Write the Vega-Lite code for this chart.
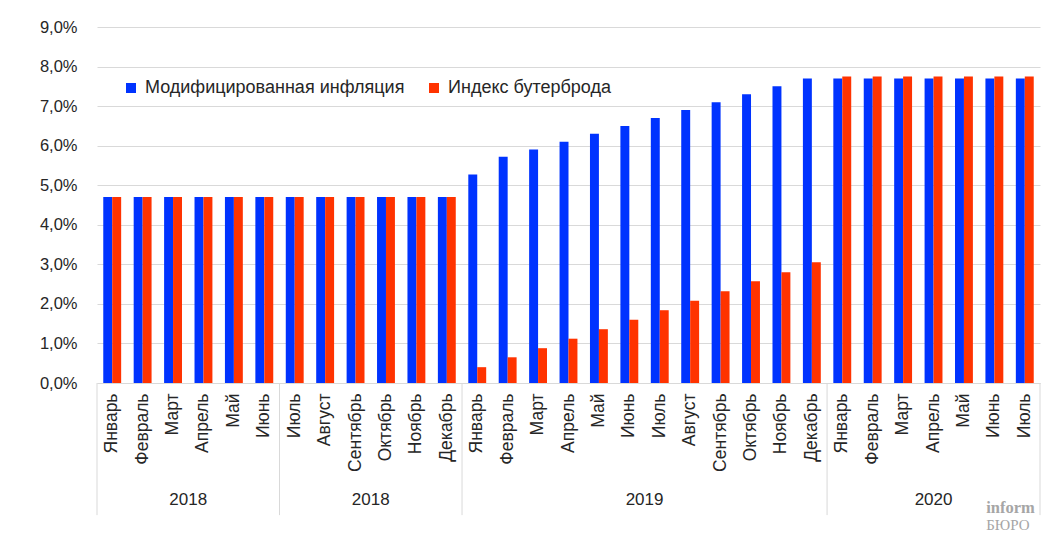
{
  "$schema": "https://vega.github.io/schema/vega-lite/v6.json",
  "width": 943,
  "height": 356,
  "autosize": {"type": "none"},
  "padding": {"left": 97, "top": 27, "right": 16, "bottom": 166},
  "background": "white",
  "config": {
    "view": {"stroke": null},
    "font": "Liberation Sans",
    "text": {"font": "Liberation Sans"}
  },
  "datasets": {
    "bars": [
      {"key": "2018-01|Январь", "series": "Модифицированная инфляция", "value": 4.7},
      {"key": "2018-01|Январь", "series": "Индекс бутерброда", "value": 4.7},
      {"key": "2018-02|Февраль", "series": "Модифицированная инфляция", "value": 4.7},
      {"key": "2018-02|Февраль", "series": "Индекс бутерброда", "value": 4.7},
      {"key": "2018-03|Март", "series": "Модифицированная инфляция", "value": 4.7},
      {"key": "2018-03|Март", "series": "Индекс бутерброда", "value": 4.7},
      {"key": "2018-04|Апрель", "series": "Модифицированная инфляция", "value": 4.7},
      {"key": "2018-04|Апрель", "series": "Индекс бутерброда", "value": 4.7},
      {"key": "2018-05|Май", "series": "Модифицированная инфляция", "value": 4.7},
      {"key": "2018-05|Май", "series": "Индекс бутерброда", "value": 4.7},
      {"key": "2018-06|Июнь", "series": "Модифицированная инфляция", "value": 4.7},
      {"key": "2018-06|Июнь", "series": "Индекс бутерброда", "value": 4.7},
      {"key": "2018-07|Июль", "series": "Модифицированная инфляция", "value": 4.7},
      {"key": "2018-07|Июль", "series": "Индекс бутерброда", "value": 4.7},
      {"key": "2018-08|Август", "series": "Модифицированная инфляция", "value": 4.7},
      {"key": "2018-08|Август", "series": "Индекс бутерброда", "value": 4.7},
      {"key": "2018-09|Сентябрь", "series": "Модифицированная инфляция", "value": 4.7},
      {"key": "2018-09|Сентябрь", "series": "Индекс бутерброда", "value": 4.7},
      {"key": "2018-10|Октябрь", "series": "Модифицированная инфляция", "value": 4.7},
      {"key": "2018-10|Октябрь", "series": "Индекс бутерброда", "value": 4.7},
      {"key": "2018-11|Ноябрь", "series": "Модифицированная инфляция", "value": 4.7},
      {"key": "2018-11|Ноябрь", "series": "Индекс бутерброда", "value": 4.7},
      {"key": "2018-12|Декабрь", "series": "Модифицированная инфляция", "value": 4.7},
      {"key": "2018-12|Декабрь", "series": "Индекс бутерброда", "value": 4.7},
      {"key": "2019-01|Январь", "series": "Модифицированная инфляция", "value": 5.27},
      {"key": "2019-01|Январь", "series": "Индекс бутерброда", "value": 0.4},
      {"key": "2019-02|Февраль", "series": "Модифицированная инфляция", "value": 5.72},
      {"key": "2019-02|Февраль", "series": "Индекс бутерброда", "value": 0.65},
      {"key": "2019-03|Март", "series": "Модифицированная инфляция", "value": 5.9},
      {"key": "2019-03|Март", "series": "Индекс бутерброда", "value": 0.88},
      {"key": "2019-04|Апрель", "series": "Модифицированная инфляция", "value": 6.1},
      {"key": "2019-04|Апрель", "series": "Индекс бутерброда", "value": 1.12},
      {"key": "2019-05|Май", "series": "Модифицированная инфляция", "value": 6.3},
      {"key": "2019-05|Май", "series": "Индекс бутерброда", "value": 1.36},
      {"key": "2019-06|Июнь", "series": "Модифицированная инфляция", "value": 6.5},
      {"key": "2019-06|Июнь", "series": "Индекс бутерброда", "value": 1.6},
      {"key": "2019-07|Июль", "series": "Модифицированная инфляция", "value": 6.7},
      {"key": "2019-07|Июль", "series": "Индекс бутерброда", "value": 1.84},
      {"key": "2019-08|Август", "series": "Модифицированная инфляция", "value": 6.9},
      {"key": "2019-08|Август", "series": "Индекс бутерброда", "value": 2.08},
      {"key": "2019-09|Сентябрь", "series": "Модифицированная инфляция", "value": 7.1},
      {"key": "2019-09|Сентябрь", "series": "Индекс бутерброда", "value": 2.32},
      {"key": "2019-10|Октябрь", "series": "Модифицированная инфляция", "value": 7.3},
      {"key": "2019-10|Октябрь", "series": "Индекс бутерброда", "value": 2.57},
      {"key": "2019-11|Ноябрь", "series": "Модифицированная инфляция", "value": 7.5},
      {"key": "2019-11|Ноябрь", "series": "Индекс бутерброда", "value": 2.8},
      {"key": "2019-12|Декабрь", "series": "Модифицированная инфляция", "value": 7.7},
      {"key": "2019-12|Декабрь", "series": "Индекс бутерброда", "value": 3.05},
      {"key": "2020-01|Январь", "series": "Модифицированная инфляция", "value": 7.7},
      {"key": "2020-01|Январь", "series": "Индекс бутерброда", "value": 7.75},
      {"key": "2020-02|Февраль", "series": "Модифицированная инфляция", "value": 7.7},
      {"key": "2020-02|Февраль", "series": "Индекс бутерброда", "value": 7.75},
      {"key": "2020-03|Март", "series": "Модифицированная инфляция", "value": 7.7},
      {"key": "2020-03|Март", "series": "Индекс бутерброда", "value": 7.75},
      {"key": "2020-04|Апрель", "series": "Модифицированная инфляция", "value": 7.7},
      {"key": "2020-04|Апрель", "series": "Индекс бутерброда", "value": 7.75},
      {"key": "2020-05|Май", "series": "Модифицированная инфляция", "value": 7.7},
      {"key": "2020-05|Май", "series": "Индекс бутерброда", "value": 7.75},
      {"key": "2020-06|Июнь", "series": "Модифицированная инфляция", "value": 7.7},
      {"key": "2020-06|Июнь", "series": "Индекс бутерброда", "value": 7.75},
      {"key": "2020-07|Июль", "series": "Модифицированная инфляция", "value": 7.7},
      {"key": "2020-07|Июль", "series": "Индекс бутерброда", "value": 7.75}
    ],
    "seps": [{"pos": 0}, {"pos": 6}, {"pos": 12}, {"pos": 24}, {"pos": 31}],
    "groups": [
      {"mid": 3, "year": "2018"},
      {"mid": 9, "year": "2018"},
      {"mid": 18, "year": "2019"},
      {"mid": 27.5, "year": "2020"}
    ]
  },
  "layer": [
    {
      "data": {"name": "bars"},
      "mark": {"type": "bar"},
      "encoding": {
        "x": {
          "field": "key",
          "type": "nominal",
          "sort": null,
          "scale": {"paddingInner": 0, "paddingOuter": 0},
          "axis": {
            "title": null,
            "labelExpr": "split(datum.label, '|')[1]",
            "labelAngle": -90,
            "labelFontSize": 17.5,
            "labelColor": "#262626",
            "labelPadding": 10,
            "ticks": false,
            "grid": false,
            "domainColor": "#d9d9d9"
          }
        },
        "xOffset": {
          "field": "series",
          "type": "nominal",
          "sort": ["Модифицированная инфляция", "Индекс бутерброда"],
          "scale": {"paddingInner": 0, "paddingOuter": 0.7}
        },
        "y": {
          "field": "value",
          "type": "quantitative",
          "scale": {"domain": [0, 9], "nice": false, "zero": true},
          "axis": {
            "title": null,
            "values": [0, 1, 2, 3, 4, 5, 6, 7, 8, 9],
            "labelExpr": "replace(format(datum.value, '.1f'), '.', ',') + '%'",
            "labelOverlap": false,
            "labelFontSize": 16.5,
            "labelColor": "#262626",
            "labelPadding": 20,
            "ticks": false,
            "domain": false,
            "grid": true,
            "gridColor": "#d9d9d9"
          }
        },
        "color": {
          "field": "series",
          "type": "nominal",
          "sort": ["Модифицированная инфляция", "Индекс бутерброда"],
          "scale": {"range": ["#0033ff", "#ff3300"]},
          "legend": {
            "title": null,
            "orient": "none",
            "legendX": 25,
            "legendY": 52,
            "direction": "horizontal",
            "symbolType": "square",
            "symbolSize": 100,
            "symbolStrokeWidth": 0,
            "labelFontSize": 18,
            "labelColor": "#262626",
            "labelOffset": 5,
            "labelLimit": 400,
            "columnPadding": 20
          }
        }
      }
    },
    {
      "data": {"name": "seps"},
      "mark": {"type": "rule", "color": "#d9d9d9", "strokeWidth": 1},
      "encoding": {
        "x": {"field": "pos", "type": "quantitative", "scale": {"domain": [0, 31], "nice": false, "zero": false}, "axis": null},
        "y": {"datum": 0, "type": "quantitative", "scale": {"domain": [0, 9], "nice": false}, "axis": null},
        "y2": {"datum": -3.34}
      }
    },
    {
      "data": {"name": "groups"},
      "mark": {"type": "text", "fontSize": 17, "color": "#262626", "baseline": "middle", "align": "center"},
      "encoding": {
        "x": {"field": "mid", "type": "quantitative", "scale": {"domain": [0, 31], "nice": false, "zero": false}, "axis": null},
        "y": {"datum": -2.96, "type": "quantitative", "scale": {"domain": [0, 9], "nice": false}, "axis": null},
        "text": {"field": "year"}
      }
    },
    {
      "data": {"values": [{"t": "inform"}]},
      "mark": {"type": "text", "font": "Liberation Serif", "fontWeight": "bold", "fontSize": 16.5, "color": "#a6a6a6", "align": "left", "baseline": "middle"},
      "encoding": {
        "x": {"datum": 29.23, "type": "quantitative", "scale": {"domain": [0, 31], "nice": false, "zero": false}, "axis": null},
        "y": {"datum": -3.17, "type": "quantitative", "scale": {"domain": [0, 9], "nice": false}, "axis": null},
        "text": {"field": "t"}
      }
    },
    {
      "data": {"values": [{"t": "БЮРО"}]},
      "mark": {"type": "text", "font": "Liberation Serif", "fontSize": 15, "color": "#a6a6a6", "align": "left", "baseline": "middle"},
      "encoding": {
        "x": {"datum": 29.23, "type": "quantitative", "scale": {"domain": [0, 31], "nice": false, "zero": false}, "axis": null},
        "y": {"datum": -3.6, "type": "quantitative", "scale": {"domain": [0, 9], "nice": false}, "axis": null},
        "text": {"field": "t"}
      }
    }
  ],
  "resolve": {"scale": {"x": "independent", "y": "independent"}}
}
